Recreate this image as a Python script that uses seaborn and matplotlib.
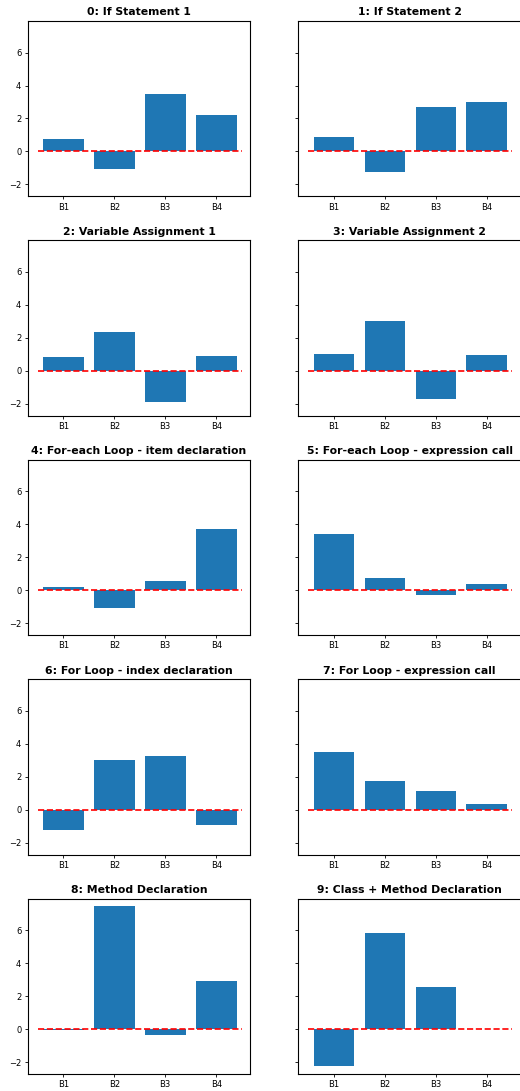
import matplotlib
matplotlib.use("Agg")
import matplotlib.pyplot as plt
import seaborn as sns
import pandas as pd

titles = [
    "0: If Statement 1",
    "1: If Statement 2",
    "2: Variable Assignment 1",
    "3: Variable Assignment 2",
    "4: For-each Loop - item declaration",
    "5: For-each Loop - expression call",
    "6: For Loop - index declaration",
    "7: For Loop - expression call",
    "8: Method Declaration",
    "9: Class + Method Declaration",
]
categories = ["B1", "B2", "B3", "B4"]
values_0 = [0.77, -1.05, 3.49, 2.22]
values_1 = [0.88, -1.22, 2.68, 2.98]
values_2 = [0.85, 2.34, -1.88, 0.91]
values_3 = [1.02, 3.00, -1.68, 0.96]
values_4 = [0.20, -1.07, 0.57, 3.72]
values_5 = [3.44, 0.74, -0.28, 0.38]
values_6 = [-1.23, 3.00, 3.25, -0.91]
values_7 = [3.49, 1.74, 1.13, 0.34]
values_8 = [-0.03, 7.45, -0.34, 2.91]
values_9 = [-2.24, 5.82, 2.55, 0.04]
all_values = [values_0, values_1, values_2, values_3, values_4,
              values_5, values_6, values_7, values_8, values_9]

plt.rcParams["font.family"] = ["DejaVu Sans"]

fig, axes = plt.subplots(5, 2, figsize=(5.2, 10.91), dpi=100, sharey=True)
fig.subplots_adjust(left=0.053, right=1.002, top=0.981, bottom=0.0155,
                    wspace=0.215, hspace=0.25)

for ax, title, vals in zip(axes.flat, titles, all_values):
    df = pd.DataFrame({"cat": categories, "val": vals})
    sns.barplot(data=df, x="cat", y="val", color="#1f77b4", saturation=1,
                width=0.8, ax=ax, errorbar=None, linewidth=0)
    ax.plot([-0.5, len(categories) - 0.5], [0, 0], color="red",
            linestyle="--", linewidth=1.2)
    ax.set_xlim(-0.7, len(categories) - 0.33)
    ax.set_title(title, fontsize=7.8, fontweight="bold", pad=4)
    ax.set_xlabel("")
    ax.set_ylabel("")
    ax.tick_params(labelsize=6, length=2.5, width=0.6, pad=2)

axes[0, 0].set_ylim(-2.72, 7.93)
axes[0, 0].set_yticks([-2, 0, 2, 4, 6])

fig.savefig("out.png", dpi=100)
